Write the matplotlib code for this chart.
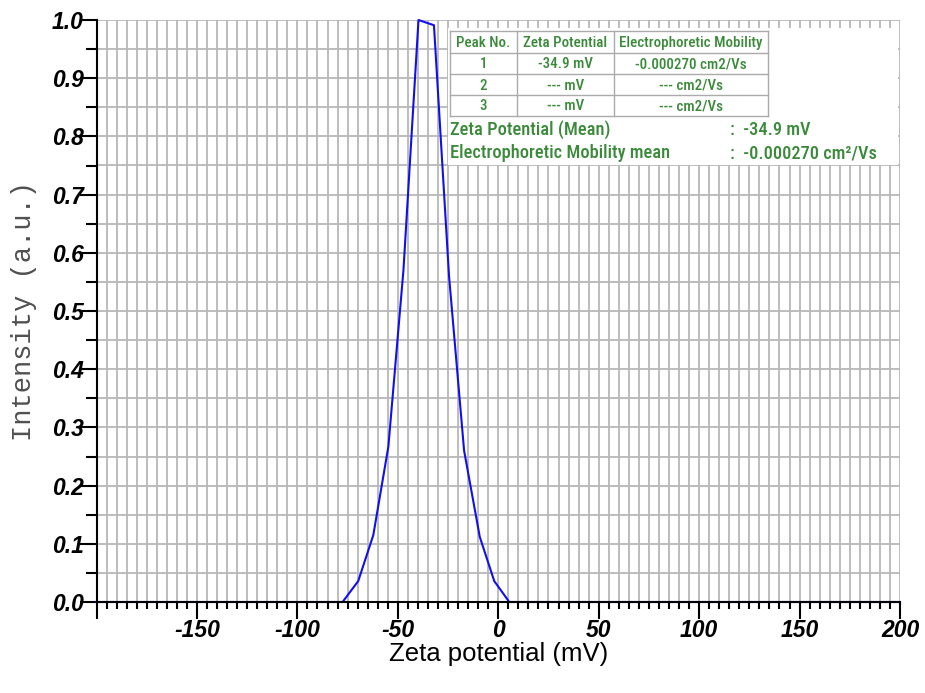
import numpy as np
import matplotlib
matplotlib.use("Agg")
import matplotlib.pyplot as plt
from matplotlib import font_manager
from matplotlib.patches import Rectangle
from matplotlib.ticker import MultipleLocator

# --- data ------------------------------------------------------------------
zeta_mv = [-200, -77.5, -69.7, -62.2, -54.7, -47.2, -39.7, -32.0,
           -24.5, -17.0, -9.2, -2.0, 5.5, 200]
intensity = [0.0, 0.0, 0.036, 0.115, 0.267, 0.57, 1.0, 0.991,
             0.56, 0.26, 0.112, 0.036, 0.0, 0.0]

x_ticks = [-150, -100, -50, 0, 50, 100, 150, 200]
y_ticks = [0.0, 0.1, 0.2, 0.3, 0.4, 0.5, 0.6, 0.7, 0.8, 0.9, 1.0]

table_header = ["Peak No.", "Zeta Potential", "Electrophoretic Mobility"]
table_rows = [["1", "-34.9 mV", "-0.000270 cm2/Vs"],
              ["2", "--- mV", "--- cm2/Vs"],
              ["3", "--- mV", "--- cm2/Vs"]]
mean_labels = ["Zeta Potential (Mean)", "Electrophoretic Mobility mean"]
mean_values = [":  -34.9 mV", ":  -0.000270 cm²/Vs"]

GREEN = "#3a8a3a"
GRID = "#b8b8b8"

names = {f.name for f in font_manager.fontManager.ttflist}
NARROW = next((n for n in ("Roboto Condensed", "Fira Sans Condensed",
                           "Sofia Sans Condensed", "Liberation Sans") if n in names))

fig = plt.figure(figsize=(9.25, 6.93), dpi=100)
ax = fig.add_axes([96.5 / 925, 1 - 602 / 693, 803.5 / 925, 582 / 693])

ax.set_xlim(-200, 200)
ax.set_ylim(0, 1.0)

# grid every 5 mV and every 0.05
for gx in np.arange(-195, 201, 5):
    ax.axvline(gx, color=GRID, lw=1.3, zorder=0)
for gy in np.arange(0.05, 1.001, 0.05):
    ax.axhline(gy, color=GRID, lw=1.3, zorder=0)

ax.plot(zeta_mv, intensity, color="#1010ee", lw=1.5, zorder=2, clip_on=False)

for s in ("top", "right"):
    ax.spines[s].set_visible(False)
for s in ("left", "bottom"):
    ax.spines[s].set_linewidth(1.5)
    ax.spines[s].set_zorder(3)

ax.set_xticks([-200] + x_ticks)
ax.set_xticklabels([""] + [str(v) for v in x_ticks])
ax.xaxis.set_minor_locator(MultipleLocator(5))
ax.set_yticks(y_ticks)
ax.set_yticklabels([f"{v:.1f}" for v in y_ticks])
ax.yaxis.set_minor_locator(MultipleLocator(0.05))

tick_font = dict(family="Liberation Sans", weight="bold", style="italic", size=16.5)
for lab in ax.get_xticklabels() + ax.get_yticklabels():
    lab.set_fontproperties(font_manager.FontProperties(**tick_font))
ax.tick_params(axis="x", which="major", direction="out", length=12, width=1.5, pad=0)
ax.tick_params(axis="x", which="minor", direction="out", length=5, width=1.5)
ax.tick_params(axis="y", which="major", direction="out", length=12, width=1.5, pad=-3)
ax.tick_params(axis="y", which="minor", direction="out", length=8, width=1.5)

ax.set_xlabel("Zeta potential (mV)", family="Liberation Sans", size=18.5, labelpad=0)
ax.set_ylabel("Intensity (a.u.)", family="Liberation Mono", size=19.5, color="#505050",
              labelpad=11)

# --- info box --------------------------------------------------------------
def px(x, y):
    return ((x - 96.5) / 803.5, (602 - y) / 582)

x0, y0 = px(448, 165)
x1, y1 = px(898, 28)
ax.add_patch(Rectangle((x0, y0), x1 - x0, y1 - y0, transform=ax.transAxes,
                       facecolor="white", edgecolor="none", zorder=4))

col_edges = [450, 517, 614, 768]
row_edges = [31, 52.5, 74, 95, 116]
for cx in col_edges:
    ax.plot(*zip(px(cx, row_edges[0]), px(cx, row_edges[-1])), transform=ax.transAxes,
            color="#aaaaaa", lw=1, zorder=5, clip_on=False)
for ry in row_edges:
    ax.plot(*zip(px(col_edges[0], ry), px(col_edges[-1], ry)), transform=ax.transAxes,
            color="#aaaaaa", lw=1, zorder=5, clip_on=False)

cells = [table_header] + table_rows
for r, row in enumerate(cells):
    yc = (row_edges[r] + row_edges[r + 1]) / 2
    for c, txt in enumerate(row):
        xc = (col_edges[c] + col_edges[c + 1]) / 2
        ax.text(*px(xc, yc + 1), txt, transform=ax.transAxes, ha="center", va="center",
                family=NARROW, size=10.8, weight=500, color=GREEN, zorder=6)

for i, (lab, val) in enumerate(zip(mean_labels, mean_values)):
    yc = 130 + 23 * i
    ax.text(*px(450, yc), lab, transform=ax.transAxes, ha="left", va="center",
            family=NARROW, size=13.2, weight=500, color=GREEN, zorder=6)
    ax.text(*px(730, yc), val, transform=ax.transAxes, ha="left", va="center",
            family=NARROW, size=13.2, weight=500, color=GREEN, zorder=6)

fig.savefig("out.png", dpi=100)
